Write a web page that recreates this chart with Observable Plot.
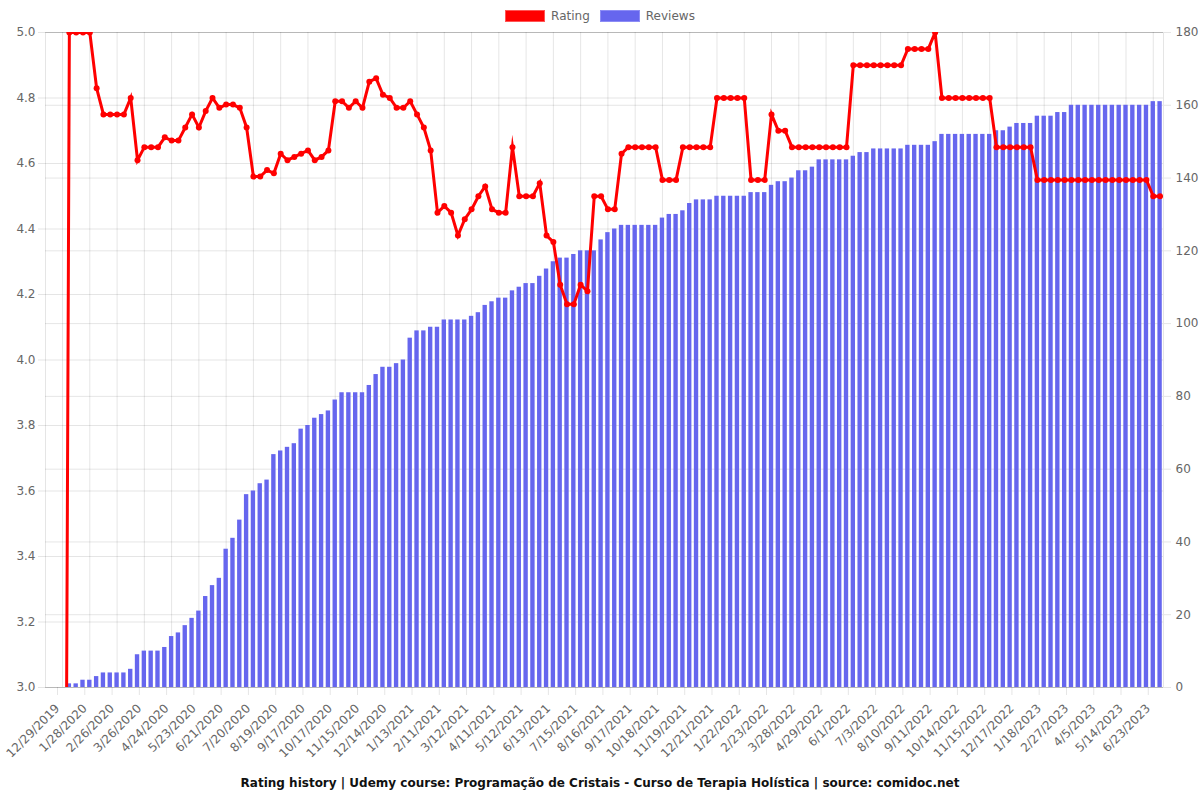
<!DOCTYPE html>
<html>
<head>
<meta charset="utf-8">
<script src="https://cdn.jsdelivr.net/npm/d3@7"></script>
<script src="https://cdn.jsdelivr.net/npm/@observablehq/plot@0.6"></script>
<style>
  html, body { margin: 0; padding: 0; background: #fff; font-family: "DejaVu Sans", sans-serif; }
  #legend { height: 24px; padding-top: 7px; box-sizing: border-box; display: flex; justify-content: center; align-items: center; font-size: 12px; color: #666; }
  .item { display: flex; align-items: center; }
  .item + .item { margin-left: 10px; }
  .box { width: 40px; height: 12px; margin-right: 6px; box-sizing: border-box; }
  #chart { height: 740px; }
  #title { height: 36px; line-height: 38px; text-align: center; font-size: 12px; font-weight: bold; color: #111; }
</style>
</head>
<body>
<div id="legend">
  <div class="item"><div class="box" style="background:#ff0000;border:1px solid #ff5555"></div><span>Rating</span></div>
  <div class="item"><div class="box" style="background:rgb(102,102,238);border:1px solid rgb(140,140,245)"></div><span>Reviews</span></div>
</div>
<div id="chart"></div>
<div id="title">Rating history | Udemy course: Programação de Cristais - Curso de Terapia Holística | source: comidoc.net</div>
<script>
const tickLabels = ["12/29/2019","1/28/2020","2/26/2020","3/26/2020","4/24/2020","5/23/2020","6/21/2020","7/20/2020","8/19/2020","9/17/2020","10/17/2020","11/15/2020","12/14/2020","1/13/2021","2/11/2021","3/12/2021","4/11/2021","5/12/2021","6/13/2021","7/15/2021","8/16/2021","9/17/2021","10/18/2021","11/19/2021","12/21/2021","1/22/2022","2/23/2022","3/28/2022","4/29/2022","6/1/2022","7/3/2022","8/10/2022","9/11/2022","10/14/2022","11/15/2022","12/17/2022","1/18/2023","2/27/2023","4/5/2023","5/14/2023","6/23/2023"];

const ratings = [
  0, 5, 5, 5, 5, 4.83, 4.75, 4.75, 4.75, 4.75,
  4.80, 4.61, 4.65, 4.65, 4.65, 4.68, 4.67, 4.67, 4.71, 4.75,
  4.71, 4.76, 4.80, 4.77, 4.78, 4.78, 4.77, 4.71, 4.56, 4.56,
  4.58, 4.57, 4.63, 4.61, 4.62, 4.63, 4.64, 4.61, 4.62, 4.64,
  4.79, 4.79, 4.77, 4.79, 4.77, 4.85, 4.86, 4.81, 4.80, 4.77,
  4.77, 4.79, 4.75, 4.71, 4.64, 4.45, 4.47, 4.45, 4.38, 4.43,
  4.46, 4.50, 4.53, 4.46, 4.45, 4.45, 4.65, 4.50, 4.50, 4.50,
  4.54, 4.38, 4.36, 4.23, 4.17, 4.17, 4.23, 4.21, 4.50, 4.50,
  4.46, 4.46, 4.63, 4.65, 4.65, 4.65, 4.65, 4.65, 4.55, 4.55,
  4.55, 4.65, 4.65, 4.65, 4.65, 4.65, 4.80, 4.80, 4.80, 4.80,
  4.80, 4.55, 4.55, 4.55, 4.75, 4.70, 4.70, 4.65, 4.65, 4.65,
  4.65, 4.65, 4.65, 4.65, 4.65, 4.65, 4.90, 4.90, 4.90, 4.90,
  4.90, 4.90, 4.90, 4.90, 4.95, 4.95, 4.95, 4.95, 5.00, 4.80,
  4.80, 4.80, 4.80, 4.80, 4.80, 4.80, 4.80, 4.65, 4.65, 4.65,
  4.65, 4.65, 4.65, 4.55, 4.55, 4.55, 4.55, 4.55, 4.55, 4.55,
  4.55, 4.55, 4.55, 4.55, 4.55, 4.55, 4.55, 4.55, 4.55, 4.55,
  4.50, 4.50
];

const reviews = [
  0, 1, 1, 2, 2, 3, 4, 4, 4, 4,
  5, 9, 10, 10, 10, 11, 14, 15, 17, 19,
  21, 25, 28, 30, 38, 41, 46, 53, 54, 56,
  57, 64, 65, 66, 67, 71, 72, 74, 75, 76,
  79, 81, 81, 81, 81, 83, 86, 88, 88, 89,
  90, 96, 98, 98, 99, 99, 101, 101, 101, 101,
  102, 103, 105, 106, 107, 107, 109, 110, 111, 111,
  113, 115, 117, 118, 118, 119, 120, 120, 120, 123,
  125, 126, 127, 127, 127, 127, 127, 127, 129, 130,
  130, 131, 133, 134, 134, 134, 135, 135, 135, 135,
  135, 136, 136, 136, 138, 139, 139, 140, 142, 142,
  143, 145, 145, 145, 145, 145, 146, 147, 147, 148,
  148, 148, 148, 148, 149, 149, 149, 149, 150, 152,
  152, 152, 152, 152, 152, 152, 152, 153, 153, 154,
  155, 155, 155, 157, 157, 157, 158, 158, 160, 160,
  160, 160, 160, 160, 160, 160, 160, 160, 160, 160,
  161, 161
];

const ratingTicks = [3.0, 3.2, 3.4, 3.6, 3.8, 4.0, 4.2, 4.4, 4.6, 4.8, 5.0];
const reviewTicks = [0, 20, 40, 60, 80, 100, 120, 140, 160, 180];
const reviewMax = 180;

// map the reviews axis (0..180) onto the rating axis (3..5)
const toY = v => 3 + 2 * v / reviewMax;
const data = ratings.map((r, i) => ({ i, rating: r, reviews: reviews[i] }));
const labelIdx = tickLabels.map((_, k) => k * 4);
const n = ratings.length;

const chart = Plot.plot({
  width: 1200,
  height: 740,
  marginTop: 8,
  marginBottom: 77,
  marginLeft: 45,
  marginRight: 37,
  style: { fontFamily: "DejaVu Sans", fontSize: "12px", color: "#666", background: "#fff" },
  x: { type: "linear", domain: [-2.5, n - 0.5], label: null },
  y: { domain: [3, 5], label: null },
  marks: [
    Plot.gridY(ratingTicks, { stroke: "#000", strokeOpacity: 0.1 }),
    Plot.gridY(reviewTicks.map(toY), { stroke: "#000", strokeOpacity: 0.1 }),
    Plot.gridX(labelIdx, { stroke: "#000", strokeOpacity: 0.1 }),
    Plot.frame({ stroke: "#000", strokeOpacity: 0.1 }),
    Plot.rectY(data, {
      x1: d => d.i - 0.32, x2: d => d.i + 0.32,
      y1: 3, y2: d => toY(d.reviews),
      fill: "rgb(102,102,238)"
    }),
    Plot.line(data, { x: "i", y: "rating", stroke: "#ff0000", strokeWidth: 3, strokeLinejoin: "miter", strokeMiterlimit: 10, clip: true }),
    Plot.dot(data, { x: "i", y: "rating", r: 3, fill: "#ff0000", clip: true }),
    Plot.axisY(ratingTicks, { anchor: "left", label: null, tickFormat: d => d.toFixed(1), tickSize: 7, tickPadding: 3, stroke: "#000", strokeOpacity: 0.1, fill: "#666" }),
    Plot.axisY(reviewTicks.map(toY), { anchor: "right", label: null, tickFormat: d => String(Math.round((d - 3) * reviewMax / 2)), tickSize: 7, tickPadding: 5, stroke: "#000", strokeOpacity: 0.1, fill: "#666" }),
    Plot.axisX(labelIdx, { anchor: "bottom", label: null, tickFormat: i => tickLabels[i / 4], tickRotate: -45, tickSize: 8, tickPadding: 11, dx: -5, stroke: "#000", strokeOpacity: 0.1, fill: "#666" })
  ]
});
document.getElementById("chart").appendChild(chart);
</script>
</body>
</html>
